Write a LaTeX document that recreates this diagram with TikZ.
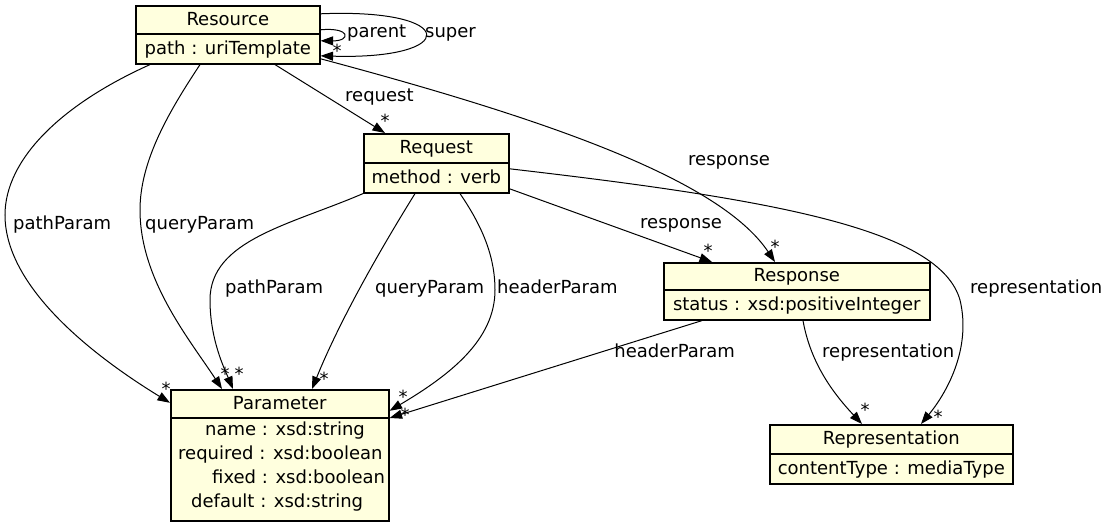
\documentclass[tikz,border=0pt]{standalone}
\usepackage{fontspec}
\setmainfont{DejaVu Sans}
\usetikzlibrary{arrows.meta}
\definecolor{boxfill}{HTML}{FFFFDE}
\begin{document}
\begin{tikzpicture}[x=1pt,y=-1pt,
  font=\fontsize{18}{21}\selectfont,
  part/.style={draw=black, line width=1.6pt, fill=boxfill, inner sep=0pt, anchor=north west, text height=14pt, text depth=3pt},
  attr/.style={inner sep=0pt, anchor=west, text height=14pt, text depth=3pt},
  edge/.style={draw=black, line width=1pt, -{Triangle[length=12.5pt,width=9pt]}},
  lbl/.style={inner sep=0pt, anchor=west, text height=14pt, text depth=3pt},
  mult/.style={inner sep=0pt, text height=11pt, text depth=0pt}]
\useasboundingbox (0,0) rectangle (1111,525);

% classes
\node[part, minimum width=184pt, minimum height=28pt] (resh) at (135,5) {Resource};
\node[part, minimum width=184pt, minimum height=30pt] (resb) at (135,33) {path : uriTemplate};
\node[part, minimum width=145pt, minimum height=29pt] (reqh) at (363,133) {Request};
\node[part, minimum width=145pt, minimum height=30pt] (reqb) at (363,162) {method : verb};
\node[part, minimum width=266pt, minimum height=27pt] (rsph) at (663,262) {Response};
\node[part, minimum width=266pt, minimum height=30pt] (rspb) at (663,289) {status : xsd:positiveInteger};
\node[part, minimum width=218pt, minimum height=28pt] (parh) at (170,389) {Parameter};
\node[part, minimum width=218pt, minimum height=103pt] (parb) at (170,417) {};
\node[attr] (pa1) at (205,430) {name : xsd:string};
\node[attr] (pa2) at (178,454) {required : xsd:boolean};
\node[attr] (pa3) at (212,478) {fixed : xsd:boolean};
\node[attr] (pa4) at (191,502) {default : xsd:string};
\node[part, minimum width=243pt, minimum height=29pt] (reph) at (769,424) {Representation};
\node[part, minimum width=243pt, minimum height=30pt] (repb) at (769,453) {contentType : mediaType};

% edges
\draw[edge] ([yshift=-10pt]resh.east) .. controls (351,27) and (351,41) .. ([yshift=8pt]resb.east);
\draw[edge] ([yshift=6pt]resh.east) .. controls (460,8) and (460,60) .. ([yshift=-7pt]resb.east);
\draw[edge] ([xshift=15pt]resb.south west) .. controls (60,105) and (5,160) .. (5,215)
   .. controls (5,290) and (100,360) .. ([yshift=1pt]parh.west);
\draw[edge] ([xshift=65pt]resb.south west) .. controls (170,110) and (140,160) .. (140,210)
   .. controls (140,280) and (190,340) .. ([xshift=52pt]parh.north west);
\draw[edge] ([xshift=140pt]resb.south west) -- ([xshift=22pt]reqh.north west);
\draw[edge] ([yshift=-10pt]resb.east) .. controls (550,120) and (720,180) .. ([xshift=112pt]rsph.north west);
\draw[edge] (reqb.south west) .. controls (290,225) and (210,240) .. (210,300)
   .. controls (210,340) and (225,370) .. ([xshift=63pt]parh.north west);
\draw[edge] ([xshift=52pt]reqb.south west) .. controls (380,250) and (340,320) .. ([xshift=142pt]parh.north west);
\draw[edge] ([xshift=97pt]reqb.south west) .. controls (485,230) and (495,260) .. (495,290)
   .. controls (495,340) and (450,375) .. ([yshift=-7pt]parh.east);
\draw[edge] ([xshift=39pt]rspb.south west) -- ([yshift=-1pt]parb.north east);
\draw[edge] ([yshift=-11pt]reqb.east) -- ([xshift=49pt]rsph.north west);
\draw[edge] ([yshift=9pt]reqb.east) .. controls (780,200) and (940,230) .. (960,300)
   .. controls (972,350) and (945,395) .. ([xshift=152pt]reph.north west);
\draw[edge] ([xshift=140pt]rspb.south west) .. controls (810,360) and (830,390) .. ([xshift=93pt]reph.north west);

% edge labels
\node[lbl] (l1) at (347,32) {parent};
\node[lbl] (l2) at (425,32) {super};
\node[lbl] (l3) at (345,96) {request};
\node[lbl] (l4) at (688,160) {response};
\node[lbl] (l5) at (13,224) {pathParam};
\node[lbl] (l6) at (145,224) {queryParam};
\node[lbl] (l7) at (225,288) {pathParam};
\node[lbl] (l8) at (375,288) {queryParam};
\node[lbl] (l9) at (497,288) {headerParam};
\node[lbl] (l10) at (640,223) {response};
\node[lbl] (l11) at (970,288) {representation};
\node[lbl, anchor=east] (l12) at (735,352) {headerParam};
\node[lbl] (l13) at (822,352) {representation};

% multiplicities
\node[mult] (m1) at (337,52) {*};
\node[mult] (m2) at (385,122) {*};
\node[mult] (m3) at (166,390) {*};
\node[mult] (m4) at (225,375) {*};
\node[mult] (m5) at (239,375) {*};
\node[mult] (m6) at (324,380) {*};
\node[mult] (m7) at (403,398) {*};
\node[mult] (m8) at (405,416) {*};
\node[mult] (m9) at (775,248) {*};
\node[mult] (m10) at (708,252) {*};
\node[mult] (m11) at (938,418) {*};
\node[mult] (m12) at (865,411) {*};
\end{tikzpicture}
\end{document}
